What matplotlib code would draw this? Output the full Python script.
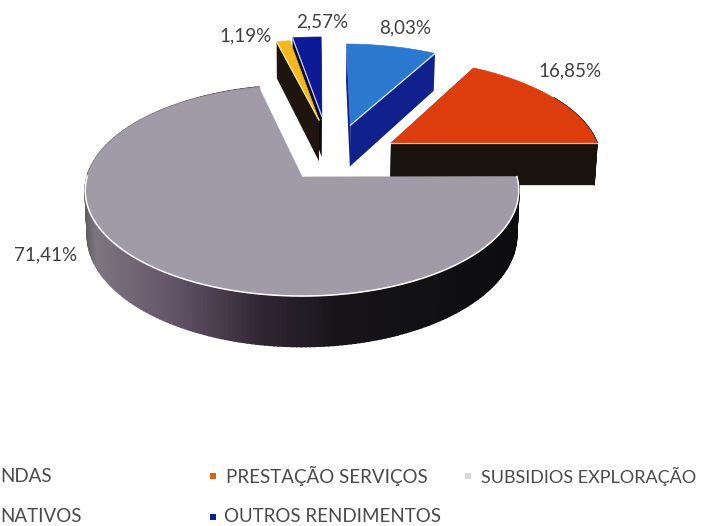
import numpy as np
import matplotlib
matplotlib.use("Agg")
import matplotlib.pyplot as plt
from matplotlib.patches import Polygon, Rectangle

# share of each income source, counter-clockwise from east
values = [16.85, 8.03, 2.57, 1.19, 71.41]
labels = ["16,85%", "8,03%", "2,57%", "1,19%", "71,41%"]

top_colors = ["#dd3c0c", "#2b78cf", "#0c1a96", "#f4b71e", "#a09ba6"]
side_colors = ["#19130f", "#10208c", "#0a0a18", "#1f1510", None]
rim_colors = ["#f0c8a0", "#dfe8f8", "#c8d0f0", "#f6f0a0", "#ffffff"]
# explosion offset of each slice in the plane of the pie
offsets = [(.432, .342), (.240, .532), (.100, .630), (.085, .590), (0, 0)]
label_pos = [(570, 71), (405, 28), (322, 22), (246, 36), (46, 255)]

# side shading of the big slice, dark towards the right
shade_x = [85, 95, 170, 260, 340, 519]
shade_r = [95, 125, 100, 48, 22, 12]
shade_g = [90, 118, 85, 38, 20, 12]
shade_b = [98, 128, 105, 52, 24, 14]

CX, CY, RX, RY, K, DEPTH = 302, 177, 215, 103.8, .128, 44


def project(x, y):
    d = 1 + K * y
    return CX + RX * x / d, CY - RY * y / d


def drop(x, y):
    """Same pie-plane points on the underside of the disc."""
    d = 1 + K * y
    sx, sy = project(x, y)
    return CX + (sx - CX) * .99, sy + DEPTH / d


def wall(x, y):
    sx, sy = project(x, y)
    bx, by = drop(x, y)
    return np.column_stack([np.r_[sx, bx[::-1]], np.r_[sy, by[::-1]]])


fig = plt.figure(figsize=(7.06, 5.26), dpi=100)
ax = fig.add_axes([0, 0, 1, 1])
ax.set_xlim(0, 706)
ax.set_ylim(526, 0)
ax.axis("off")

angles = np.r_[0, np.cumsum(values)] * 3.6
draw_order = [2, 3, 1, 0, 4]
for n, i in enumerate(draw_order):
    z = 10 * (n + 1)
    ox, oy = offsets[i]
    t = np.radians(np.linspace(angles[i], angles[i + 1], 240))
    arc_x, arc_y = ox + np.cos(t), oy + np.sin(t)

    # radial side faces
    if side_colors[i]:
        for e in (0, -1):
            ex, ey = np.array([ox, arc_x[e]]), np.array([oy, arc_y[e]])
            ax.add_patch(Polygon(wall(ex, ey), closed=True, fc=side_colors[i], ec="none", zorder=z))

    # outer wall, one small quad per arc step
    for j in range(len(t) - 1):
        sx = project(arc_x[j], arc_y[j])[0]
        if side_colors[i]:
            color = side_colors[i]
        else:
            color = (np.interp(sx, shade_x, shade_r) / 255,
                     np.interp(sx, shade_x, shade_g) / 255,
                     np.interp(sx, shade_x, shade_b) / 255)
        if side_colors[i] is None or arc_y[j] < oy + .5:
            ax.add_patch(Polygon(wall(arc_x[j:j + 2], arc_y[j:j + 2]), closed=True,
                                 fc=color, ec=color, lw=1.2, zorder=z))

    # top face
    px, py = project(np.r_[ox, arc_x], np.r_[oy, arc_y])
    ax.add_patch(Polygon(np.column_stack([px, py]), closed=True, fc=top_colors[i],
                         ec=top_colors[i], lw=.5, zorder=z + 1))

    # light rim where the top meets a visible wall
    if i == 4:
        front = np.sin(t) < .02
        rx, ry = project(arc_x[front], arc_y[front])
        ax.plot(rx, ry, color=rim_colors[i], lw=1.1, zorder=z + 2)
    else:
        e = 0 if i in (0, 1) else -1
        rx, ry = project(np.array([ox, arc_x[e]]), np.array([oy, arc_y[e]]))
        ax.plot(rx, ry, color=rim_colors[i], lw=.9, zorder=z + 2)

for s, (x, y) in zip(labels, label_pos):
    ax.text(x, y, s, family="Lato", fontsize=13.5, color="#3f3f3f",
            ha="center", va="center", zorder=100)

# legend, cut off by the left border of the page
legend_text = [("NDAS", 0, 476, 13.5), ("PRESTAÇÃO SERVIÇOS", 226, 476, 13.5),
               ("SUBSIDIOS EXPLORAÇÃO", 481, 476, 13),
               ("NATIVOS", 0, 517, 13.5), ("OUTROS RENDIMENTOS", 224, 517, 13.5)]
for s, x, y, size in legend_text:
    ax.text(x, y, s, family="Lato", fontsize=size, color="#4a4a4a", ha="left", va="center", zorder=100)

legend_keys = [(213, 476, "#d8660f"), (468, 476, "#d9d9d9"), (213, 517, "#10208c")]
for x, y, c in legend_keys:
    ax.add_patch(Rectangle((x - 3, y - 3), 6, 6, fc=c, ec="none", zorder=100))

fig.savefig("out.png", dpi=100)
